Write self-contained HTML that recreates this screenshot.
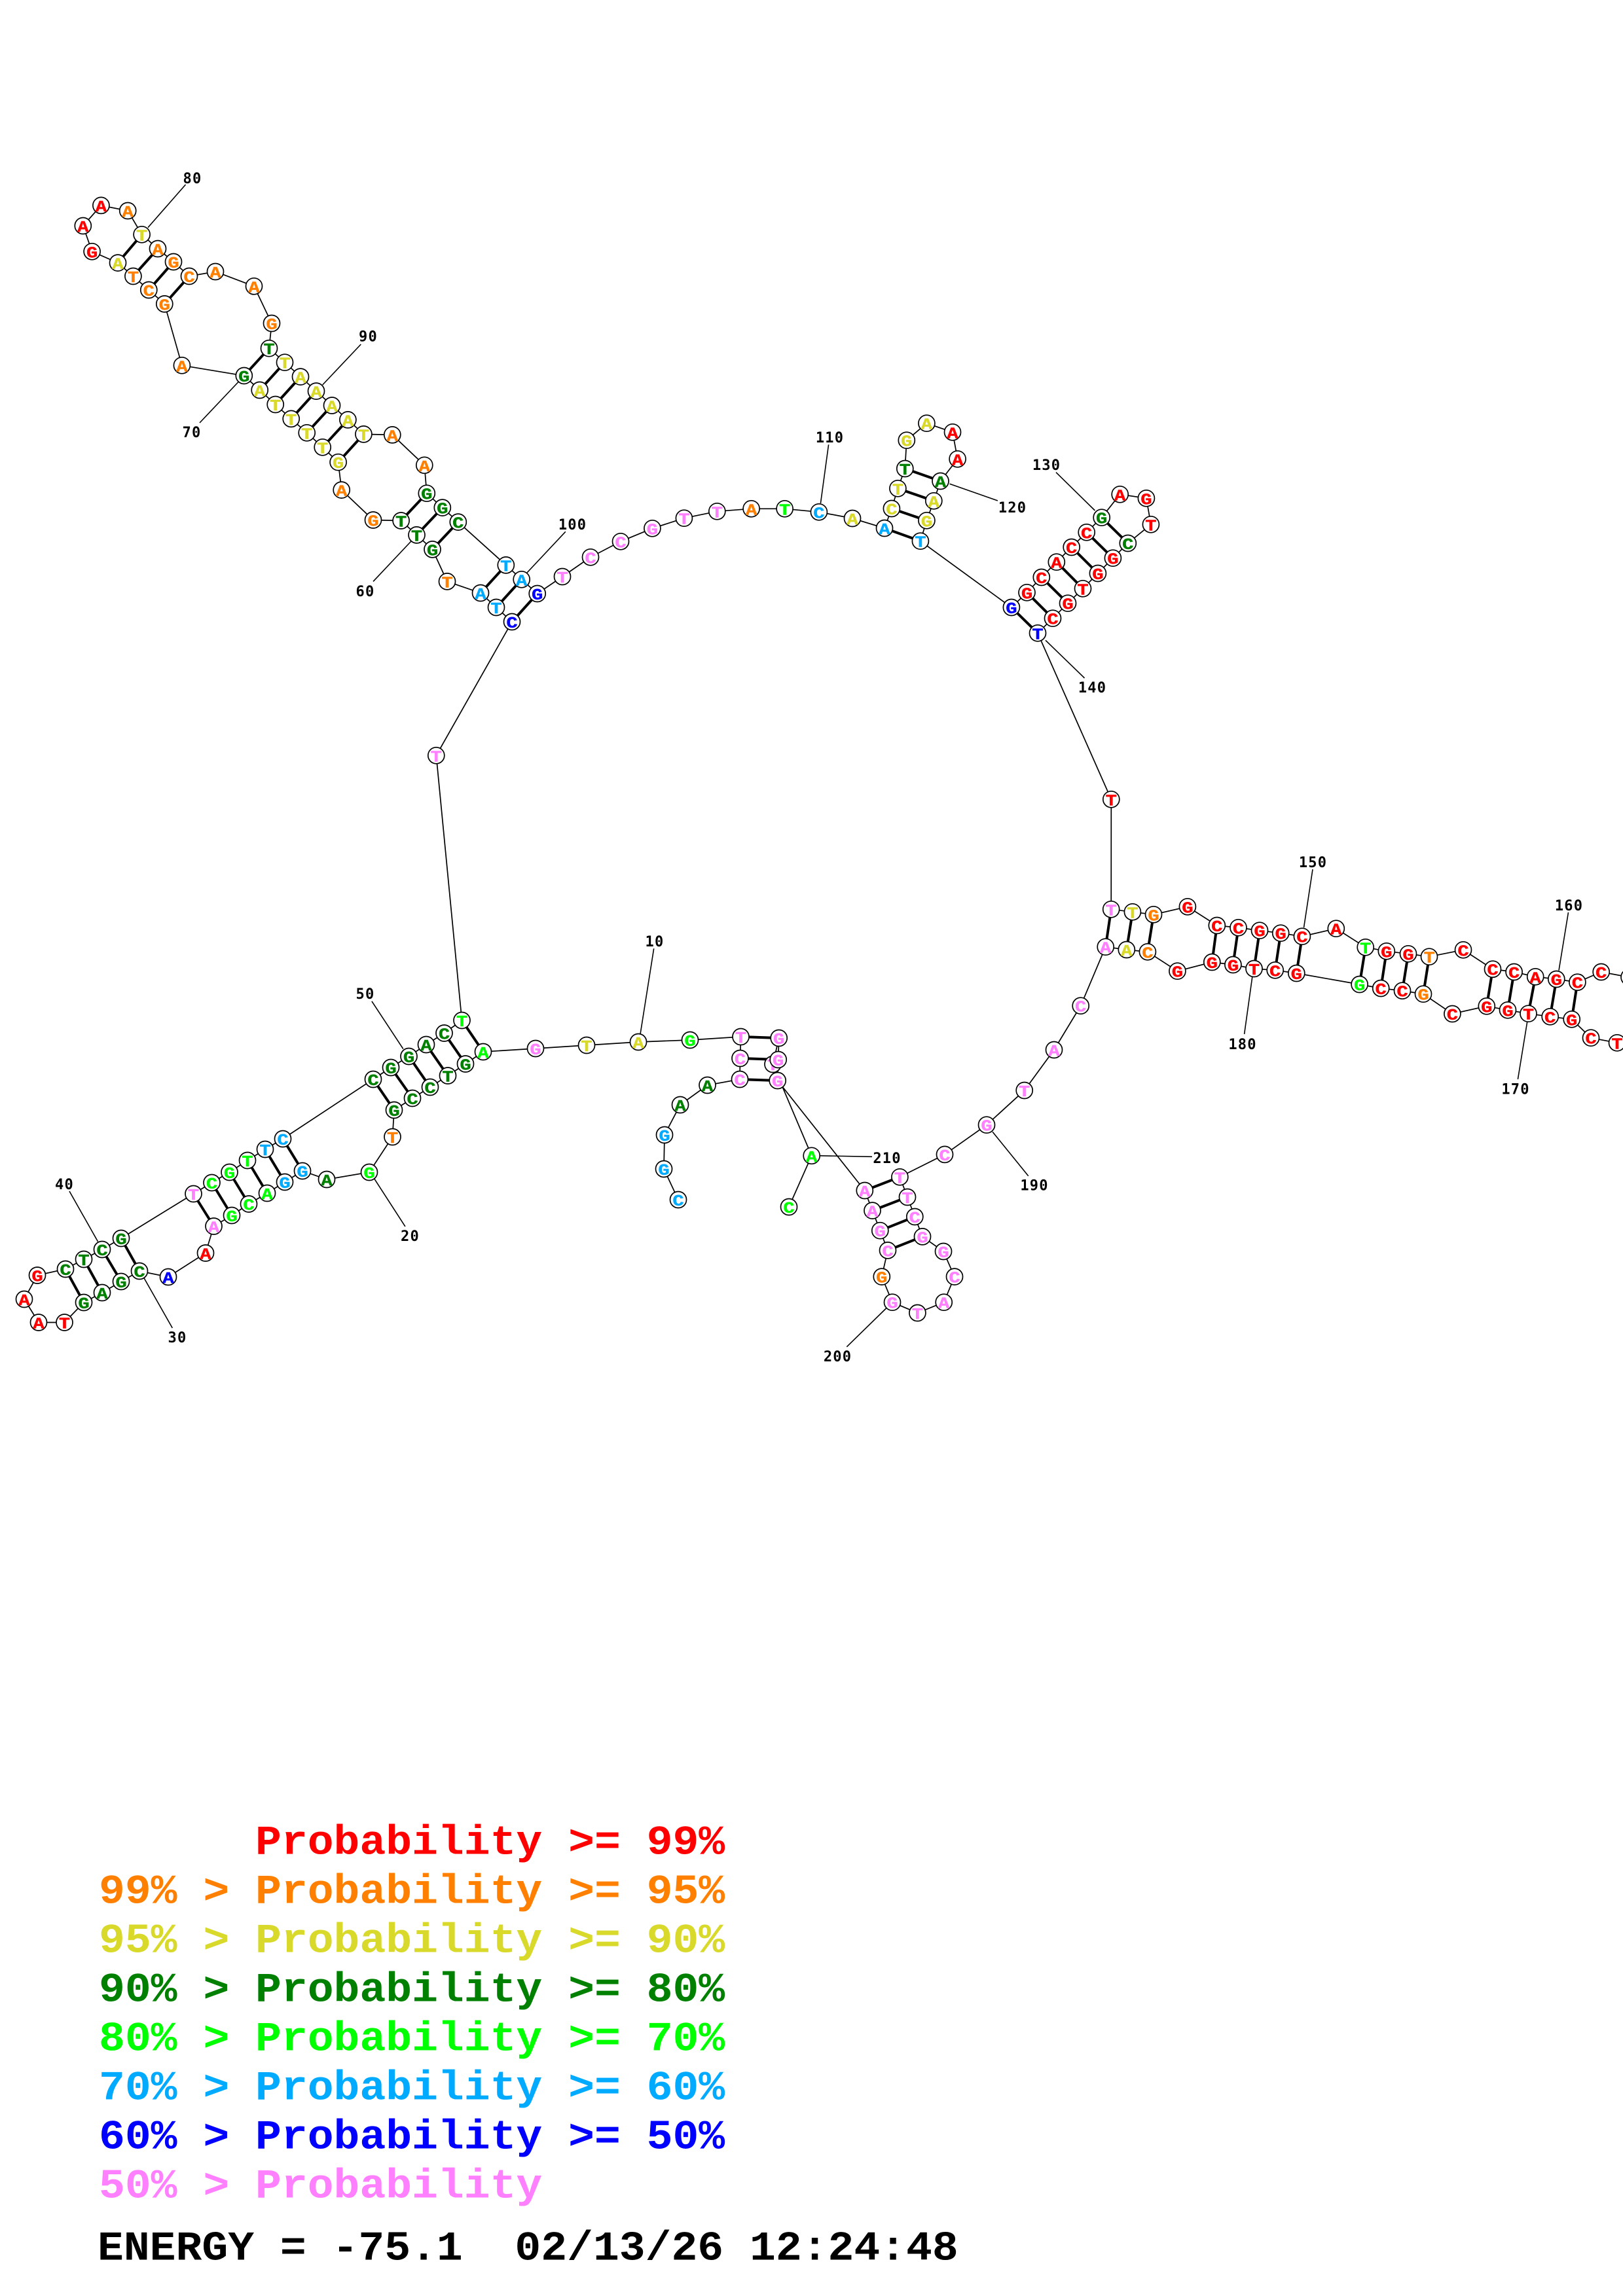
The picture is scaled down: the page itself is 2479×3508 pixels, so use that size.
<!DOCTYPE html>
<html><head><meta charset="utf-8"><title>RNA structure</title>
<style>
html,body{margin:0;padding:0;background:#fff}
svg{display:block;position:absolute;left:0;top:0}
.b{fill:none;stroke:#000;stroke-width:1.7}
.p line{stroke:#000;stroke-width:4}
.k line{stroke:#000;stroke-width:1.6}
.n circle{r:12.5px;fill:#fff;stroke:#000;stroke-width:1.7}
.n text{font:bold 24px "Liberation Mono",monospace;text-anchor:middle;transform:scaleX(1.2);stroke-width:.4}
.lb{font:bold 22px "DejaVu Sans Mono",monospace;letter-spacing:1.2px;text-anchor:middle;fill:#000}
.lg{font:bold 66.4px "Liberation Mono",monospace}
.r{fill:#f00}.o{fill:#ff8000}.y{fill:#d9d92b}.d{fill:#008000}.g{fill:#0f0}.s{fill:#00aaff}.u{fill:#00f}.m{fill:#ff80ff}
.n .r{stroke:#f00}.n .o{stroke:#ff8000}.n .y{stroke:#d9d92b}.n .d{stroke:#008000}.n .g{stroke:#0f0}.n .s{stroke:#00aaff}.n .u{stroke:#00f}.n .m{stroke:#ff80ff}
</style></head><body>
<svg xmlns="http://www.w3.org/2000/svg" width="2479" height="3508" viewBox="0 0 2479 3508">
<rect width="2479" height="3508" fill="#fff"/>
<polyline class="b" points="1036,1833 1014,1786 1015,1734 1039,1688 1080.5,1658 1130,1649 1130.5,1617 1131.5,1584 1054,1589 975,1592 896,1597 818,1602 738,1607 711,1625.5 684,1643.5 657,1661 630,1678 602,1696 599.5,1737 564,1791 499,1802 462,1789 435,1806 408,1823 380,1839.5 354,1857 326.5,1873.5 314,1914.5 257,1951 213,1942 185,1958 156,1975 128,1990 98.5,2020.5 59,2020.5 37,1985 57,1948.5 100,1939 128,1924 156,1909 185,1892 295.5,1824 323.5,1807 350.5,1791 378,1773 405,1756 432,1740 570,1649 597,1631 624.5,1614 651,1596 678.5,1578.5 705.5,1559 666.3,1154.3 782,950 758,928 734,906 683,888.4 660.5,839.4 636.5,817.4 612.6,795.5 570,794.5 521.7,748.6 516.6,706.2 492.7,683.3 468.7,661.3 444.7,639.9 420.7,618 396.7,596 372.8,574 277.9,558.3 251.3,464.4 227.3,443 203.4,422 180,401.6 140.6,384.3 126.8,345 154.4,313.9 195.2,322 216.6,358.3 241,380 265,400 289,422 329,415 388,437.3 415,494 411,532.2 435,553.7 459,575.6 483,597.6 507,619.5 531.4,641.4 555.4,663.4 599.3,664.4 648.3,710.8 651.8,753.7 675.8,775.6 699.8,797.6 772.8,863.4 796.7,885.3 820.7,907 859,881 902,851.3 948,827.3 996.4,807.3 1044.9,791.7 1095.3,781.3 1147.6,777.3 1198.6,777.3 1250.9,782.3 1302,792 1351,807 1361.9,777 1371.4,746.3 1382.3,716 1384.8,672.7 1415.4,646.7 1455,660.3 1462.6,701.3 1436.5,735 1426.3,765.3 1415.4,795.3 1405.9,826.7 1544.9,928 1568.5,905.3 1590.8,882 1613.8,858.7 1636.7,836 1659.7,813.3 1682.7,790.7 1710.7,755.3 1750.9,761.3 1757.9,801.3 1722.8,830 1699.9,852.7 1676.9,876 1654,899.3 1631,921.7 1608,944.7 1585,967.3 1697.3,1221.3 1697.2,1389.3 1729.9,1393.3 1762,1397.3 1813.9,1385.3 1858.8,1414 1891.5,1417.3 1924,1421.7 1956.2,1425.7 1988.9,1430.7 2040.8,1418.7 2085.7,1447.3 2117.8,1453.3 2151,1457.3 2183,1461.7 2235,1451.3 2280,1480.7 2312.6,1485 2345.2,1492.3 2377.3,1496 2409.4,1500.7 2445.7,1485 2488.5,1493 2530,1530 2510,1600 2470,1593.3 2430,1585.7 2400.7,1557.3 2367.7,1553.3 2334.5,1548.7 2303,1543.3 2270.8,1537.3 2218.4,1549 2174,1518.7 2142,1513.7 2109.2,1510 2076.6,1504 1980.3,1487 1947.7,1482.3 1915.5,1480 1883.4,1474 1851.3,1470 1798.4,1483.7 1752.9,1454.3 1720.8,1451 1688.7,1446.7 1650.7,1536.7 1610,1604 1564.7,1666 1507,1718.7 1443,1763.9 1374.4,1798.3 1386,1829 1397.3,1859 1409,1889.4 1441,1912 1458,1950.6 1441.7,1989.7 1401.4,2006 1363,1989.7 1346.8,1950.6 1356,1910.4 1344.3,1880.2 1332.5,1849.6 1320.8,1819 1187.7,1651 1188.7,1619 1189.7,1586 1180.5,1626 1239.7,1765.8 1205,1844"/>
<g class="k">
<line x1="978" y1="1580" x2="998.7" y2="1449.3"/>
<line x1="571.4" y1="1800.4" x2="618.9" y2="1873.9"/>
<line x1="219.4" y1="1951.6" x2="263.3" y2="2029"/>
<line x1="149.5" y1="1897" x2="106" y2="1820"/>
<line x1="615.8" y1="1602.6" x2="567.9" y2="1529.8"/>
<line x1="627.9" y1="827" x2="570" y2="888.4"/>
<line x1="364.6" y1="583" x2="305" y2="646"/>
<line x1="226" y1="347.6" x2="283.5" y2="282"/>
<line x1="492.7" y1="588" x2="551.3" y2="526"/>
<line x1="805" y1="875" x2="863.8" y2="812.3"/>
<line x1="1253.4" y1="769" x2="1265.6" y2="679.3"/>
<line x1="1450.5" y1="739.3" x2="1523.9" y2="765"/>
<line x1="1672.4" y1="780" x2="1613" y2="721.7"/>
<line x1="1597" y1="978.3" x2="1656.5" y2="1036"/>
<line x1="1991.5" y1="1417.3" x2="2005" y2="1328.3"/>
<line x1="2381" y1="1482.7" x2="2395.5" y2="1394"/>
<line x1="2332.9" y1="1560" x2="2318.4" y2="1649"/>
<line x1="1912.9" y1="1491.7" x2="1900.6" y2="1580"/>
<line x1="1516" y1="1729.3" x2="1570.7" y2="1796.7"/>
<line x1="1354" y1="1998.5" x2="1293.3" y2="2057.8"/>
<line x1="1253" y1="1765.8" x2="1332" y2="1767.3"/>
</g>
<g class="p">
<line x1="1130" y1="1649" x2="1187.7" y2="1651"/><line x1="1130.5" y1="1617" x2="1188.7" y2="1619"/><line x1="1131.5" y1="1584" x2="1189.7" y2="1586"/>
<line x1="738" y1="1607" x2="705.5" y2="1559"/><line x1="711" y1="1625.5" x2="678.5" y2="1578.5"/><line x1="684" y1="1643.5" x2="651" y2="1596"/><line x1="657" y1="1661" x2="624.5" y2="1614"/><line x1="630" y1="1678" x2="597" y2="1631"/><line x1="602" y1="1696" x2="570" y2="1649"/>
<line x1="462" y1="1789" x2="432" y2="1740"/><line x1="435" y1="1806" x2="405" y2="1756"/><line x1="408" y1="1823" x2="378" y2="1773"/><line x1="380" y1="1839.5" x2="350.5" y2="1791"/><line x1="354" y1="1857" x2="323.5" y2="1807"/><line x1="326.5" y1="1873.5" x2="295.5" y2="1824"/>
<line x1="213" y1="1942" x2="185" y2="1892"/><line x1="185" y1="1958" x2="156" y2="1909"/><line x1="156" y1="1975" x2="128" y2="1924"/><line x1="128" y1="1990" x2="100" y2="1939"/>
<line x1="782" y1="950" x2="820.7" y2="907"/><line x1="758" y1="928" x2="796.7" y2="885.3"/><line x1="734" y1="906" x2="772.8" y2="863.4"/>
<line x1="660.5" y1="839.4" x2="699.8" y2="797.6"/><line x1="636.5" y1="817.4" x2="675.8" y2="775.6"/><line x1="612.6" y1="795.5" x2="651.8" y2="753.7"/>
<line x1="516.6" y1="706.2" x2="555.4" y2="663.4"/><line x1="492.7" y1="683.3" x2="531.4" y2="641.4"/><line x1="468.7" y1="661.3" x2="507" y2="619.5"/><line x1="444.7" y1="639.9" x2="483" y2="597.6"/><line x1="420.7" y1="618" x2="459" y2="575.6"/><line x1="396.7" y1="596" x2="435" y2="553.7"/><line x1="372.8" y1="574" x2="411" y2="532.2"/>
<line x1="251.3" y1="464.4" x2="289" y2="422"/><line x1="227.3" y1="443" x2="265" y2="400"/><line x1="203.4" y1="422" x2="241" y2="380"/><line x1="180" y1="401.6" x2="216.6" y2="358.3"/>
<line x1="1351" y1="807" x2="1405.9" y2="826.7"/><line x1="1361.9" y1="777" x2="1415.4" y2="795.3"/><line x1="1371.4" y1="746.3" x2="1426.3" y2="765.3"/><line x1="1382.3" y1="716" x2="1436.5" y2="735"/>
<line x1="1544.9" y1="928" x2="1585" y2="967.3"/><line x1="1568.5" y1="905.3" x2="1608" y2="944.7"/><line x1="1590.8" y1="882" x2="1631" y2="921.7"/><line x1="1613.8" y1="858.7" x2="1654" y2="899.3"/><line x1="1636.7" y1="836" x2="1676.9" y2="876"/><line x1="1659.7" y1="813.3" x2="1699.9" y2="852.7"/><line x1="1682.7" y1="790.7" x2="1722.8" y2="830"/>
<line x1="1697.2" y1="1389.3" x2="1688.7" y2="1446.7"/><line x1="1729.9" y1="1393.3" x2="1720.8" y2="1451"/><line x1="1762" y1="1397.3" x2="1752.9" y2="1454.3"/>
<line x1="1858.8" y1="1414" x2="1851.3" y2="1470"/><line x1="1891.5" y1="1417.3" x2="1883.4" y2="1474"/><line x1="1924" y1="1421.7" x2="1915.5" y2="1480"/><line x1="1956.2" y1="1425.7" x2="1947.7" y2="1482.3"/><line x1="1988.9" y1="1430.7" x2="1980.3" y2="1487"/>
<line x1="2085.7" y1="1447.3" x2="2076.6" y2="1504"/><line x1="2117.8" y1="1453.3" x2="2109.2" y2="1510"/><line x1="2151" y1="1457.3" x2="2142" y2="1513.7"/><line x1="2183" y1="1461.7" x2="2174" y2="1518.7"/>
<line x1="2280" y1="1480.7" x2="2270.8" y2="1537.3"/><line x1="2312.6" y1="1485" x2="2303" y2="1543.3"/><line x1="2345.2" y1="1492.3" x2="2334.5" y2="1548.7"/><line x1="2377.3" y1="1496" x2="2367.7" y2="1553.3"/><line x1="2409.4" y1="1500.7" x2="2400.7" y2="1557.3"/>
<line x1="1374.4" y1="1798.3" x2="1320.8" y2="1819"/><line x1="1386" y1="1829" x2="1332.5" y2="1849.6"/><line x1="1397.3" y1="1859" x2="1344.3" y2="1880.2"/><line x1="1409" y1="1889.4" x2="1356" y2="1910.4"/>
</g>
<g class="n">
<g transform="translate(1180.5 1626)"><circle/><text y="9" class="m">T</text></g>
<g transform="translate(1036 1833)"><circle/><text y="9" class="s">C</text></g>
<g transform="translate(1014 1786)"><circle/><text y="9" class="s">G</text></g>
<g transform="translate(1015 1734)"><circle/><text y="9" class="s">G</text></g>
<g transform="translate(1039 1688)"><circle/><text y="9" class="d">A</text></g>
<g transform="translate(1080.5 1658)"><circle/><text y="9" class="d">A</text></g>
<g transform="translate(1130 1649)"><circle/><text y="9" class="m">C</text></g>
<g transform="translate(1130.5 1617)"><circle/><text y="9" class="m">C</text></g>
<g transform="translate(1131.5 1584)"><circle/><text y="9" class="m">T</text></g>
<g transform="translate(1054 1589)"><circle/><text y="9" class="g">G</text></g>
<g transform="translate(975 1592)"><circle/><text y="9" class="y">A</text></g>
<g transform="translate(896 1597)"><circle/><text y="9" class="y">T</text></g>
<g transform="translate(818 1602)"><circle/><text y="9" class="m">G</text></g>
<g transform="translate(738 1607)"><circle/><text y="9" class="g">A</text></g>
<g transform="translate(711 1625.5)"><circle/><text y="9" class="d">G</text></g>
<g transform="translate(684 1643.5)"><circle/><text y="9" class="d">T</text></g>
<g transform="translate(657 1661)"><circle/><text y="9" class="d">C</text></g>
<g transform="translate(630 1678)"><circle/><text y="9" class="d">C</text></g>
<g transform="translate(602 1696)"><circle/><text y="9" class="d">G</text></g>
<g transform="translate(599.5 1737)"><circle/><text y="9" class="o">T</text></g>
<g transform="translate(564 1791)"><circle/><text y="9" class="g">G</text></g>
<g transform="translate(499 1802)"><circle/><text y="9" class="d">A</text></g>
<g transform="translate(462 1789)"><circle/><text y="9" class="s">G</text></g>
<g transform="translate(435 1806)"><circle/><text y="9" class="s">G</text></g>
<g transform="translate(408 1823)"><circle/><text y="9" class="g">A</text></g>
<g transform="translate(380 1839.5)"><circle/><text y="9" class="g">C</text></g>
<g transform="translate(354 1857)"><circle/><text y="9" class="g">G</text></g>
<g transform="translate(326.5 1873.5)"><circle/><text y="9" class="m">A</text></g>
<g transform="translate(314 1914.5)"><circle/><text y="9" class="r">A</text></g>
<g transform="translate(257 1951)"><circle/><text y="9" class="u">A</text></g>
<g transform="translate(213 1942)"><circle/><text y="9" class="d">C</text></g>
<g transform="translate(185 1958)"><circle/><text y="9" class="d">G</text></g>
<g transform="translate(156 1975)"><circle/><text y="9" class="d">A</text></g>
<g transform="translate(128 1990)"><circle/><text y="9" class="d">G</text></g>
<g transform="translate(98.5 2020.5)"><circle/><text y="9" class="r">T</text></g>
<g transform="translate(59 2020.5)"><circle/><text y="9" class="r">A</text></g>
<g transform="translate(37 1985)"><circle/><text y="9" class="r">A</text></g>
<g transform="translate(57 1948.5)"><circle/><text y="9" class="r">G</text></g>
<g transform="translate(100 1939)"><circle/><text y="9" class="d">C</text></g>
<g transform="translate(128 1924)"><circle/><text y="9" class="d">T</text></g>
<g transform="translate(156 1909)"><circle/><text y="9" class="d">C</text></g>
<g transform="translate(185 1892)"><circle/><text y="9" class="d">G</text></g>
<g transform="translate(295.5 1824)"><circle/><text y="9" class="m">T</text></g>
<g transform="translate(323.5 1807)"><circle/><text y="9" class="g">C</text></g>
<g transform="translate(350.5 1791)"><circle/><text y="9" class="g">G</text></g>
<g transform="translate(378 1773)"><circle/><text y="9" class="g">T</text></g>
<g transform="translate(405 1756)"><circle/><text y="9" class="s">T</text></g>
<g transform="translate(432 1740)"><circle/><text y="9" class="s">C</text></g>
<g transform="translate(570 1649)"><circle/><text y="9" class="d">C</text></g>
<g transform="translate(597 1631)"><circle/><text y="9" class="d">G</text></g>
<g transform="translate(624.5 1614)"><circle/><text y="9" class="d">G</text></g>
<g transform="translate(651 1596)"><circle/><text y="9" class="d">A</text></g>
<g transform="translate(678.5 1578.5)"><circle/><text y="9" class="d">C</text></g>
<g transform="translate(705.5 1559)"><circle/><text y="9" class="g">T</text></g>
<g transform="translate(666.3 1154.3)"><circle/><text y="9" class="m">T</text></g>
<g transform="translate(782 950)"><circle/><text y="9" class="u">C</text></g>
<g transform="translate(758 928)"><circle/><text y="9" class="s">T</text></g>
<g transform="translate(734 906)"><circle/><text y="9" class="s">A</text></g>
<g transform="translate(683 888.4)"><circle/><text y="9" class="o">T</text></g>
<g transform="translate(660.5 839.4)"><circle/><text y="9" class="d">G</text></g>
<g transform="translate(636.5 817.4)"><circle/><text y="9" class="d">T</text></g>
<g transform="translate(612.6 795.5)"><circle/><text y="9" class="d">T</text></g>
<g transform="translate(570 794.5)"><circle/><text y="9" class="o">G</text></g>
<g transform="translate(521.7 748.6)"><circle/><text y="9" class="o">A</text></g>
<g transform="translate(516.6 706.2)"><circle/><text y="9" class="y">G</text></g>
<g transform="translate(492.7 683.3)"><circle/><text y="9" class="y">T</text></g>
<g transform="translate(468.7 661.3)"><circle/><text y="9" class="y">T</text></g>
<g transform="translate(444.7 639.9)"><circle/><text y="9" class="y">T</text></g>
<g transform="translate(420.7 618)"><circle/><text y="9" class="y">T</text></g>
<g transform="translate(396.7 596)"><circle/><text y="9" class="y">A</text></g>
<g transform="translate(372.8 574)"><circle/><text y="9" class="d">G</text></g>
<g transform="translate(277.9 558.3)"><circle/><text y="9" class="o">A</text></g>
<g transform="translate(251.3 464.4)"><circle/><text y="9" class="o">G</text></g>
<g transform="translate(227.3 443)"><circle/><text y="9" class="o">C</text></g>
<g transform="translate(203.4 422)"><circle/><text y="9" class="o">T</text></g>
<g transform="translate(180 401.6)"><circle/><text y="9" class="y">A</text></g>
<g transform="translate(140.6 384.3)"><circle/><text y="9" class="r">G</text></g>
<g transform="translate(126.8 345)"><circle/><text y="9" class="r">A</text></g>
<g transform="translate(154.4 313.9)"><circle/><text y="9" class="r">A</text></g>
<g transform="translate(195.2 322)"><circle/><text y="9" class="o">A</text></g>
<g transform="translate(216.6 358.3)"><circle/><text y="9" class="y">T</text></g>
<g transform="translate(241 380)"><circle/><text y="9" class="o">A</text></g>
<g transform="translate(265 400)"><circle/><text y="9" class="o">G</text></g>
<g transform="translate(289 422)"><circle/><text y="9" class="o">C</text></g>
<g transform="translate(329 415)"><circle/><text y="9" class="o">A</text></g>
<g transform="translate(388 437.3)"><circle/><text y="9" class="o">A</text></g>
<g transform="translate(415 494)"><circle/><text y="9" class="o">G</text></g>
<g transform="translate(411 532.2)"><circle/><text y="9" class="d">T</text></g>
<g transform="translate(435 553.7)"><circle/><text y="9" class="y">T</text></g>
<g transform="translate(459 575.6)"><circle/><text y="9" class="y">A</text></g>
<g transform="translate(483 597.6)"><circle/><text y="9" class="y">A</text></g>
<g transform="translate(507 619.5)"><circle/><text y="9" class="y">A</text></g>
<g transform="translate(531.4 641.4)"><circle/><text y="9" class="y">A</text></g>
<g transform="translate(555.4 663.4)"><circle/><text y="9" class="y">T</text></g>
<g transform="translate(599.3 664.4)"><circle/><text y="9" class="o">A</text></g>
<g transform="translate(648.3 710.8)"><circle/><text y="9" class="o">A</text></g>
<g transform="translate(651.8 753.7)"><circle/><text y="9" class="d">G</text></g>
<g transform="translate(675.8 775.6)"><circle/><text y="9" class="d">G</text></g>
<g transform="translate(699.8 797.6)"><circle/><text y="9" class="d">C</text></g>
<g transform="translate(772.8 863.4)"><circle/><text y="9" class="s">T</text></g>
<g transform="translate(796.7 885.3)"><circle/><text y="9" class="s">A</text></g>
<g transform="translate(820.7 907)"><circle/><text y="9" class="u">G</text></g>
<g transform="translate(859 881)"><circle/><text y="9" class="m">T</text></g>
<g transform="translate(902 851.3)"><circle/><text y="9" class="m">C</text></g>
<g transform="translate(948 827.3)"><circle/><text y="9" class="m">C</text></g>
<g transform="translate(996.4 807.3)"><circle/><text y="9" class="m">G</text></g>
<g transform="translate(1044.9 791.7)"><circle/><text y="9" class="m">T</text></g>
<g transform="translate(1095.3 781.3)"><circle/><text y="9" class="m">T</text></g>
<g transform="translate(1147.6 777.3)"><circle/><text y="9" class="o">A</text></g>
<g transform="translate(1198.6 777.3)"><circle/><text y="9" class="g">T</text></g>
<g transform="translate(1250.9 782.3)"><circle/><text y="9" class="s">C</text></g>
<g transform="translate(1302 792)"><circle/><text y="9" class="y">A</text></g>
<g transform="translate(1351 807)"><circle/><text y="9" class="s">A</text></g>
<g transform="translate(1361.9 777)"><circle/><text y="9" class="y">C</text></g>
<g transform="translate(1371.4 746.3)"><circle/><text y="9" class="y">T</text></g>
<g transform="translate(1382.3 716)"><circle/><text y="9" class="d">T</text></g>
<g transform="translate(1384.8 672.7)"><circle/><text y="9" class="y">G</text></g>
<g transform="translate(1415.4 646.7)"><circle/><text y="9" class="y">A</text></g>
<g transform="translate(1455 660.3)"><circle/><text y="9" class="r">A</text></g>
<g transform="translate(1462.6 701.3)"><circle/><text y="9" class="r">A</text></g>
<g transform="translate(1436.5 735)"><circle/><text y="9" class="d">A</text></g>
<g transform="translate(1426.3 765.3)"><circle/><text y="9" class="y">A</text></g>
<g transform="translate(1415.4 795.3)"><circle/><text y="9" class="y">G</text></g>
<g transform="translate(1405.9 826.7)"><circle/><text y="9" class="s">T</text></g>
<g transform="translate(1544.9 928)"><circle/><text y="9" class="u">G</text></g>
<g transform="translate(1568.5 905.3)"><circle/><text y="9" class="r">G</text></g>
<g transform="translate(1590.8 882)"><circle/><text y="9" class="r">C</text></g>
<g transform="translate(1613.8 858.7)"><circle/><text y="9" class="r">A</text></g>
<g transform="translate(1636.7 836)"><circle/><text y="9" class="r">C</text></g>
<g transform="translate(1659.7 813.3)"><circle/><text y="9" class="r">C</text></g>
<g transform="translate(1682.7 790.7)"><circle/><text y="9" class="d">G</text></g>
<g transform="translate(1710.7 755.3)"><circle/><text y="9" class="r">A</text></g>
<g transform="translate(1750.9 761.3)"><circle/><text y="9" class="r">G</text></g>
<g transform="translate(1757.9 801.3)"><circle/><text y="9" class="r">T</text></g>
<g transform="translate(1722.8 830)"><circle/><text y="9" class="d">C</text></g>
<g transform="translate(1699.9 852.7)"><circle/><text y="9" class="r">G</text></g>
<g transform="translate(1676.9 876)"><circle/><text y="9" class="r">G</text></g>
<g transform="translate(1654 899.3)"><circle/><text y="9" class="r">T</text></g>
<g transform="translate(1631 921.7)"><circle/><text y="9" class="r">G</text></g>
<g transform="translate(1608 944.7)"><circle/><text y="9" class="r">C</text></g>
<g transform="translate(1585 967.3)"><circle/><text y="9" class="u">T</text></g>
<g transform="translate(1697.3 1221.3)"><circle/><text y="9" class="r">T</text></g>
<g transform="translate(1697.2 1389.3)"><circle/><text y="9" class="m">T</text></g>
<g transform="translate(1729.9 1393.3)"><circle/><text y="9" class="y">T</text></g>
<g transform="translate(1762 1397.3)"><circle/><text y="9" class="o">G</text></g>
<g transform="translate(1813.9 1385.3)"><circle/><text y="9" class="r">G</text></g>
<g transform="translate(1858.8 1414)"><circle/><text y="9" class="r">C</text></g>
<g transform="translate(1891.5 1417.3)"><circle/><text y="9" class="r">C</text></g>
<g transform="translate(1924 1421.7)"><circle/><text y="9" class="r">G</text></g>
<g transform="translate(1956.2 1425.7)"><circle/><text y="9" class="r">G</text></g>
<g transform="translate(1988.9 1430.7)"><circle/><text y="9" class="r">C</text></g>
<g transform="translate(2040.8 1418.7)"><circle/><text y="9" class="r">A</text></g>
<g transform="translate(2085.7 1447.3)"><circle/><text y="9" class="g">T</text></g>
<g transform="translate(2117.8 1453.3)"><circle/><text y="9" class="r">G</text></g>
<g transform="translate(2151 1457.3)"><circle/><text y="9" class="r">G</text></g>
<g transform="translate(2183 1461.7)"><circle/><text y="9" class="o">T</text></g>
<g transform="translate(2235 1451.3)"><circle/><text y="9" class="r">C</text></g>
<g transform="translate(2280 1480.7)"><circle/><text y="9" class="r">C</text></g>
<g transform="translate(2312.6 1485)"><circle/><text y="9" class="r">C</text></g>
<g transform="translate(2345.2 1492.3)"><circle/><text y="9" class="r">A</text></g>
<g transform="translate(2377.3 1496)"><circle/><text y="9" class="r">G</text></g>
<g transform="translate(2409.4 1500.7)"><circle/><text y="9" class="r">C</text></g>
<g transform="translate(2445.7 1485)"><circle/><text y="9" class="r">C</text></g>
<g transform="translate(2488.5 1493)"><circle/><text y="9" class="r">C</text></g>
<g transform="translate(2470 1593.3)"><circle/><text y="9" class="r">T</text></g>
<g transform="translate(2430 1585.7)"><circle/><text y="9" class="r">C</text></g>
<g transform="translate(2400.7 1557.3)"><circle/><text y="9" class="r">G</text></g>
<g transform="translate(2367.7 1553.3)"><circle/><text y="9" class="r">C</text></g>
<g transform="translate(2334.5 1548.7)"><circle/><text y="9" class="r">T</text></g>
<g transform="translate(2303 1543.3)"><circle/><text y="9" class="r">G</text></g>
<g transform="translate(2270.8 1537.3)"><circle/><text y="9" class="r">G</text></g>
<g transform="translate(2218.4 1549)"><circle/><text y="9" class="r">C</text></g>
<g transform="translate(2174 1518.7)"><circle/><text y="9" class="o">G</text></g>
<g transform="translate(2142 1513.7)"><circle/><text y="9" class="r">C</text></g>
<g transform="translate(2109.2 1510)"><circle/><text y="9" class="r">C</text></g>
<g transform="translate(2076.6 1504)"><circle/><text y="9" class="g">G</text></g>
<g transform="translate(1980.3 1487)"><circle/><text y="9" class="r">G</text></g>
<g transform="translate(1947.7 1482.3)"><circle/><text y="9" class="r">C</text></g>
<g transform="translate(1915.5 1480)"><circle/><text y="9" class="r">T</text></g>
<g transform="translate(1883.4 1474)"><circle/><text y="9" class="r">G</text></g>
<g transform="translate(1851.3 1470)"><circle/><text y="9" class="r">G</text></g>
<g transform="translate(1798.4 1483.7)"><circle/><text y="9" class="r">G</text></g>
<g transform="translate(1752.9 1454.3)"><circle/><text y="9" class="o">C</text></g>
<g transform="translate(1720.8 1451)"><circle/><text y="9" class="y">A</text></g>
<g transform="translate(1688.7 1446.7)"><circle/><text y="9" class="m">A</text></g>
<g transform="translate(1650.7 1536.7)"><circle/><text y="9" class="m">C</text></g>
<g transform="translate(1610 1604)"><circle/><text y="9" class="m">A</text></g>
<g transform="translate(1564.7 1666)"><circle/><text y="9" class="m">T</text></g>
<g transform="translate(1507 1718.7)"><circle/><text y="9" class="m">G</text></g>
<g transform="translate(1443 1763.9)"><circle/><text y="9" class="m">C</text></g>
<g transform="translate(1374.4 1798.3)"><circle/><text y="9" class="m">T</text></g>
<g transform="translate(1386 1829)"><circle/><text y="9" class="m">T</text></g>
<g transform="translate(1397.3 1859)"><circle/><text y="9" class="m">C</text></g>
<g transform="translate(1409 1889.4)"><circle/><text y="9" class="m">G</text></g>
<g transform="translate(1441 1912)"><circle/><text y="9" class="m">G</text></g>
<g transform="translate(1458 1950.6)"><circle/><text y="9" class="m">C</text></g>
<g transform="translate(1441.7 1989.7)"><circle/><text y="9" class="m">A</text></g>
<g transform="translate(1401.4 2006)"><circle/><text y="9" class="m">T</text></g>
<g transform="translate(1363 1989.7)"><circle/><text y="9" class="m">G</text></g>
<g transform="translate(1346.8 1950.6)"><circle/><text y="9" class="o">G</text></g>
<g transform="translate(1356 1910.4)"><circle/><text y="9" class="m">C</text></g>
<g transform="translate(1344.3 1880.2)"><circle/><text y="9" class="m">G</text></g>
<g transform="translate(1332.5 1849.6)"><circle/><text y="9" class="m">A</text></g>
<g transform="translate(1320.8 1819)"><circle/><text y="9" class="m">A</text></g>
<g transform="translate(1189.7 1586)"><circle/><text y="9" class="m">G</text></g>
<g transform="translate(1187.7 1651)"><circle/><text y="9" class="m">G</text></g>
<g transform="translate(1188.7 1619)"><circle/><text y="9" class="m">G</text></g>
<g transform="translate(1239.7 1765.8)"><circle/><text y="9" class="g">A</text></g>
<g transform="translate(1205 1844)"><circle/><text y="9" class="g">C</text></g>
</g>
<g class="lb">
<text x="1000" y="1446">10</text>
<text x="626.5" y="1896">20</text>
<text x="271" y="2051">30</text>
<text x="98.5" y="1817">40</text>
<text x="558" y="1526">50</text>
<text x="558" y="911">60</text>
<text x="293" y="668">70</text>
<text x="294" y="280">80</text>
<text x="562.5" y="521.5">90</text>
<text x="874.5" y="809">100</text>
<text x="1267.5" y="676">110</text>
<text x="1546.5" y="783">120</text>
<text x="1598.5" y="718">130</text>
<text x="1668.5" y="1058">140</text>
<text x="2005.5" y="1325">150</text>
<text x="2396.5" y="1391">160</text>
<text x="2315" y="1671.5">170</text>
<text x="1898" y="1603">180</text>
<text x="1580" y="1818.5">190</text>
<text x="1279.5" y="2080">200</text>
<text x="1355" y="1777">210</text>
</g>
<g class="lg">
<text transform="translate(151 2832.5) scale(1 .95)" class="r">&#160;&#160;&#160;&#160;&#160;&#160;Probability &gt;= 99%</text>
<text transform="translate(151 2907.5) scale(1 .95)" class="o">99% &gt; Probability &gt;= 95%</text>
<text transform="translate(151 2982.5) scale(1 .95)" class="y">95% &gt; Probability &gt;= 90%</text>
<text transform="translate(151 3057.5) scale(1 .95)" class="d">90% &gt; Probability &gt;= 80%</text>
<text transform="translate(151 3132.5) scale(1 .95)" class="g">80% &gt; Probability &gt;= 70%</text>
<text transform="translate(151 3207.5) scale(1 .95)" class="s">70% &gt; Probability &gt;= 60%</text>
<text transform="translate(151 3282.5) scale(1 .95)" class="u">60% &gt; Probability &gt;= 50%</text>
<text transform="translate(151 3357.5) scale(1 .95)" class="m">50% &gt; Probability</text>
<text transform="translate(149 3452.7) scale(1 .95)" fill="#000">ENERGY = -75.1&#160;&#160;02/13/26 12:24:48</text>
</g>
</svg>
</body></html>
